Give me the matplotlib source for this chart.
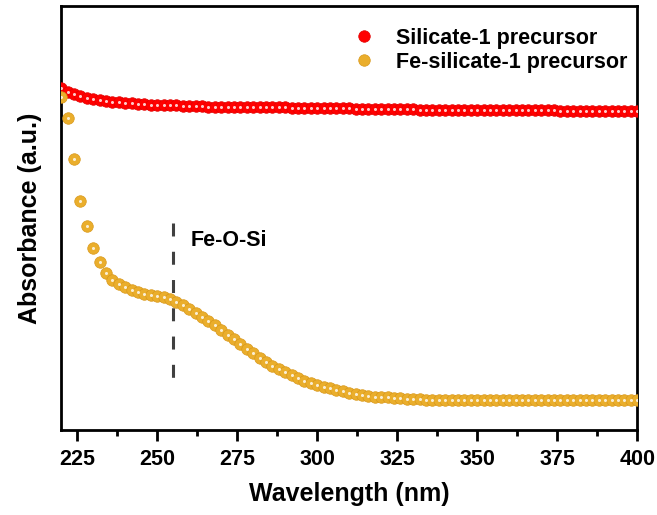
import numpy as np
import matplotlib
matplotlib.use("Agg")
import matplotlib.pyplot as plt
from matplotlib.legend_handler import HandlerTuple

plt.rcParams['font.family'] = ['Liberation Sans', 'DejaVu Sans']
plt.rcParams['font.weight'] = 'bold'

# wavelength grid (nm), one point every 2 nm
wavelength = np.arange(220, 401, 2)

# Silicate-1 precursor (a.u.)
silicate = [
    0.807, 0.797, 0.792, 0.787, 0.783, 0.780, 0.778, 0.776, 0.774, 0.773,
    0.772, 0.771, 0.770, 0.769, 0.768, 0.768, 0.767, 0.766, 0.766, 0.765,
    0.764, 0.764, 0.764, 0.763, 0.763, 0.763, 0.763, 0.762, 0.762, 0.762,
    0.762, 0.762, 0.761, 0.761, 0.761, 0.761, 0.760, 0.760, 0.760, 0.760,
    0.760, 0.760, 0.759, 0.759, 0.759, 0.759, 0.758, 0.758, 0.758, 0.758,
    0.758, 0.757, 0.757, 0.757, 0.757, 0.757, 0.756, 0.756, 0.756, 0.756,
    0.756, 0.756, 0.756, 0.755, 0.755, 0.755, 0.755, 0.755, 0.755, 0.755,
    0.754, 0.754, 0.754, 0.754, 0.754, 0.754, 0.754, 0.754, 0.753, 0.753,
    0.753, 0.753, 0.753, 0.753, 0.753, 0.753, 0.753, 0.753, 0.753, 0.753,
    0.753,
]

# Fe-silicate-1 precursor (a.u.)
fe_silicate = [
    0.785, 0.736, 0.639, 0.541, 0.481, 0.430, 0.397, 0.371, 0.355, 0.344,
    0.337, 0.330, 0.325, 0.322, 0.319, 0.316, 0.313, 0.308, 0.301, 0.295,
    0.285, 0.277, 0.267, 0.258, 0.248, 0.236, 0.224, 0.214, 0.203, 0.192,
    0.181, 0.170, 0.161, 0.151, 0.143, 0.136, 0.129, 0.122, 0.116, 0.111,
    0.106, 0.102, 0.098, 0.094, 0.091, 0.088, 0.086, 0.083, 0.081, 0.079,
    0.078, 0.077, 0.075, 0.075, 0.074, 0.073, 0.073, 0.072, 0.072, 0.072,
    0.071, 0.071, 0.071, 0.071, 0.071, 0.071, 0.071, 0.071, 0.071, 0.071,
    0.071, 0.071, 0.070, 0.070, 0.070, 0.070, 0.070, 0.070, 0.070, 0.070,
    0.070, 0.070, 0.070, 0.070, 0.070, 0.070, 0.070, 0.070, 0.070, 0.070,
    0.070,
]

fe_o_si_pos = 255
fe_o_si_span = (0.489, 0.123)

series = [
    ('Silicate-1 precursor', silicate, '#ff0000', '#e00000'),
    ('Fe-silicate-1 precursor', fe_silicate, '#eaae2c', '#d9981a'),
]

fig = plt.figure(figsize=(6.57, 5.15), dpi=100)
ax = fig.add_axes([0.093, 0.165, 0.877, 0.823])

handles = []
for name, vals, col, edge in series:
    base, = ax.plot(wavelength, vals, 'o', ms=8.3, mfc=col, mec=edge, mew=0.5,
                    zorder=3)
    hi, = ax.plot(wavelength, vals, 'o', ms=2.2, mfc='white', mec='none',
                  alpha=0.8, zorder=4)
    handles.append(((base, hi), name))

ax.plot([fe_o_si_pos, fe_o_si_pos], fe_o_si_span, color='#404040', lw=2.2,
        dashes=(4.25, 5.0), zorder=2)
ax.text(fe_o_si_pos + 5.5, 0.448, 'Fe-O-Si', fontsize=15.5, fontweight='bold',
        va='center', ha='left')

ax.set_xlim(220, 400)
ax.set_ylim(0, 1)
ax.set_xticks([225, 250, 275, 300, 325, 350, 375, 400])
ax.set_xticks(np.arange(237.5, 400, 25), minor=True)
ax.set_yticks([])
ax.tick_params(axis='x', which='major', direction='out', length=8, width=2,
               labelsize=15.5, pad=6)
ax.tick_params(axis='x', which='minor', direction='out', length=4, width=2)
for lab in ax.get_xticklabels():
    lab.set_fontweight('bold')
for sp in ax.spines.values():
    sp.set_linewidth(2)

ax.set_xlabel('Wavelength (nm)', fontsize=18, fontweight='bold', labelpad=8)
ax.set_ylabel('Absorbance (a.u.)', fontsize=18, fontweight='bold', labelpad=14)

ax.legend([h for h, _ in handles], [n for _, n in handles],
          handler_map={tuple: HandlerTuple(ndivide=None)},
          loc='upper right', frameon=False,
          prop={'weight': 'bold', 'size': 15.5},
          handlelength=1.0, handletextpad=0.6, labelspacing=0.15,
          borderaxespad=0.0, bbox_to_anchor=(0.997, 0.97))

fig.savefig('out.png', dpi=100)
